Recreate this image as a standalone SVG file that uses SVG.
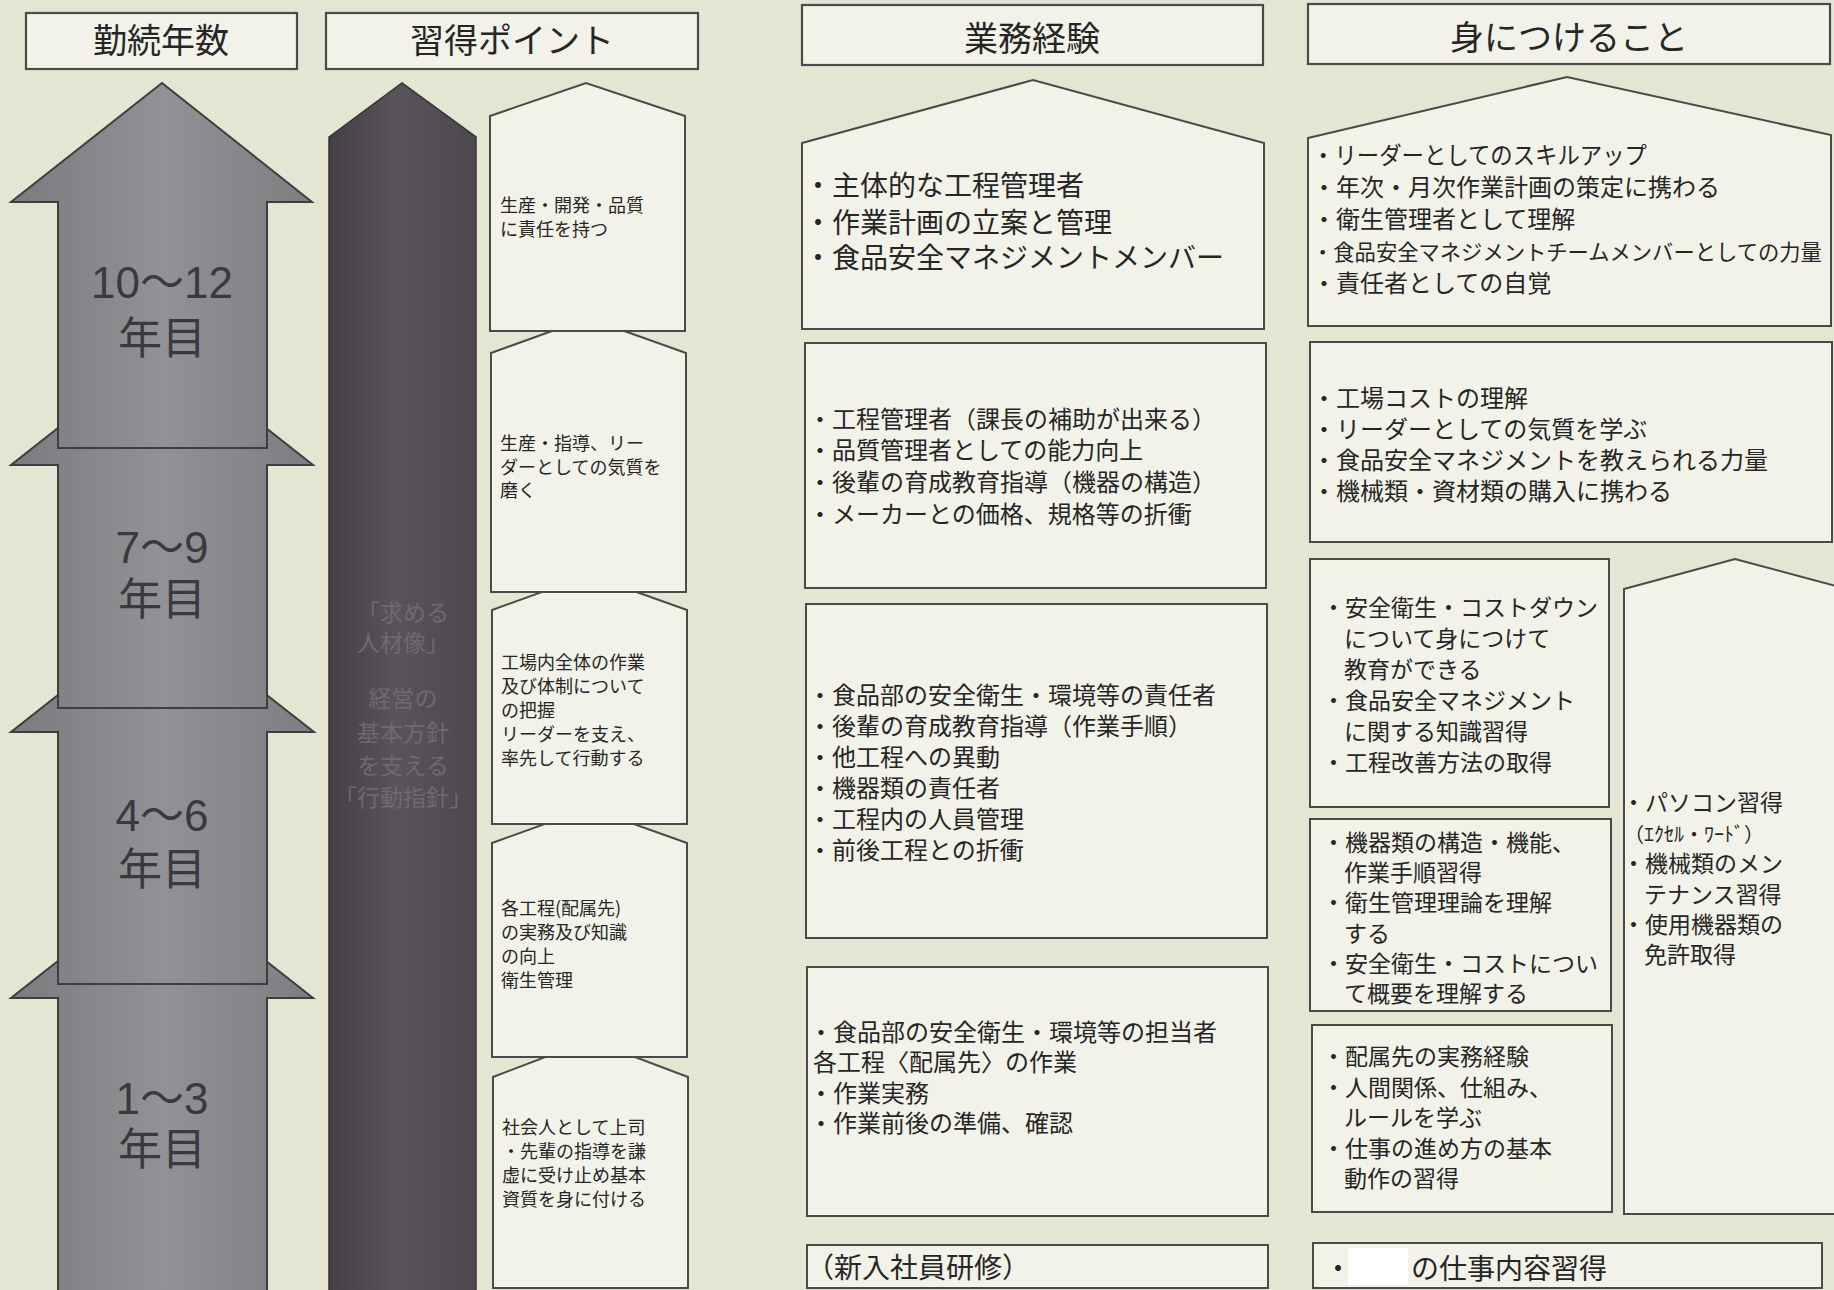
<svg xmlns="http://www.w3.org/2000/svg" width="1834" height="1290" viewBox="0 0 1834 1290">
<defs>
<linearGradient id="gArrow" x1="0" y1="0" x2="1" y2="0">
<stop offset="0" stop-color="#7b7b7f"/>
<stop offset="0.5" stop-color="#929296"/>
<stop offset="1" stop-color="#7e7e82"/>
</linearGradient>
<linearGradient id="gPillar" x1="0" y1="0" x2="1" y2="0">
<stop offset="0" stop-color="#433f44"/>
<stop offset="0.45" stop-color="#59545b"/>
<stop offset="1" stop-color="#4c484e"/>
</linearGradient>
<style>
.bg{fill:#e5e5d3}
.box{fill:#f2f2e8;stroke:#4a4a4a;stroke-width:2}
.hdr{fill:#f2f2e8;stroke:#4a4a4a;stroke-width:2.2}
.arrow{fill:url(#gArrow);stroke:#3e3e3e;stroke-width:2}
.pillar{fill:url(#gPillar);stroke:#333;stroke-width:1.5}
text{font-family:"Noto Sans CJK JP","Noto Sans CJK SC",sans-serif;fill:#262626}
.h{font-size:34px;text-anchor:middle}
.yr{font-family:"Liberation Sans","Noto Sans CJK JP",sans-serif;font-size:44px;text-anchor:middle;fill:#3a3a3c}
.pt{font-size:23px;text-anchor:middle;fill:#6e6a6e}
.s18{font-size:18px}
.s24{font-size:24px}
.s23{font-size:23px}
.s28{font-size:28px}
</style>
</defs>
<rect class="bg" x="0" y="0" width="1834" height="1290"/>

<g id="headers">
<g id="hdr-years"><rect class="hdr" x="26" y="13" width="271" height="56"/><text class="h" x="161" y="53">勤続年数</text></g>
<g id="hdr-points"><rect class="hdr" x="326" y="13" width="372" height="56"/><text class="h" x="512" y="53">習得ポイント</text></g>
<g id="hdr-work"><rect class="hdr" x="802" y="5" width="461" height="60"/><text class="h" x="1032" y="51">業務経験</text></g>
<g id="hdr-skills"><rect class="hdr" x="1308" y="4" width="522" height="60"/><text class="h" x="1569" y="50">身につけること</text></g>
</g>

<g id="year-arrows">
<g id="arrow-1-3"><path class="arrow" d="M162,879 L313,998 L267,998 L267,1296 L58,1296 L58,998 L11,998 Z"/>
<text class="yr" x="162" y="1114">1〜3</text><text class="yr" x="162" y="1165">年目</text></g>
<g id="arrow-4-6"><path class="arrow" d="M162,613 L314,732 L267,732 L267,984 L58,984 L58,732 L11,732 Z"/>
<text class="yr" x="162" y="831">4〜6</text><text class="yr" x="162" y="885">年目</text></g>
<g id="arrow-7-9"><path class="arrow" d="M162,346 L313,465 L267,465 L267,708 L58,708 L58,465 L11,465 Z"/>
<text class="yr" x="162" y="563">7〜9</text><text class="yr" x="162" y="615">年目</text></g>
<g id="arrow-10-12"><path class="arrow" d="M162,83 L312,202 L267,202 L267,448 L58,448 L58,202 L11,202 Z"/>
<text class="yr" x="162" y="298">10〜12</text><text class="yr" x="162" y="354">年目</text></g>
</g>

<g id="pillar">
<path class="pillar" d="M329,137 L402,83 L476,137 L476,1296 L329,1296 Z"/>
<text class="pt" x="403" y="621">「求める</text>
<text class="pt" x="403" y="651">人材像」</text>
<text class="pt" x="403" y="707">経営の</text>
<text class="pt" x="403" y="741">基本方針</text>
<text class="pt" x="403" y="774">を支える</text>
<text class="pt" x="403" y="806">「行動指針」</text>
</g>

<g id="points">
<g id="pt-5"><path class="box" d="M493,1077 L590,1040 L688,1077 L688,1288 L493,1288 Z"/>
<text class="s18" x="502" y="1134">社会人として上司</text>
<text class="s18" x="502" y="1158">・先輩の指導を謙</text>
<text class="s18" x="502" y="1182">虚に受け止め基本</text>
<text class="s18" x="502" y="1206">資質を身に付ける</text></g>
<g id="pt-4"><path class="box" d="M492,843 L589,808 L687,843 L687,1057 L492,1057 Z"/>
<text class="s18" x="501" y="915">各工程(配属先)</text>
<text class="s18" x="501" y="939">の実務及び知識</text>
<text class="s18" x="501" y="963">の向上</text>
<text class="s18" x="501" y="987">衛生管理</text></g>
<g id="pt-3"><path class="box" d="M492,610 L589,575 L687,610 L687,824 L492,824 Z"/>
<text class="s18" x="501" y="669">工場内全体の作業</text>
<text class="s18" x="501" y="693">及び体制について</text>
<text class="s18" x="501" y="717">の把握</text>
<text class="s18" x="501" y="741">リーダーを支え、</text>
<text class="s18" x="501" y="765">率先して行動する</text></g>
<g id="pt-2"><path class="box" d="M491,353 L588,318 L686,353 L686,592 L491,592 Z"/>
<text class="s18" x="500" y="450">生産・指導、リー</text>
<text class="s18" x="500" y="474">ダーとしての気質を</text>
<text class="s18" x="500" y="497">磨く</text></g>
<g id="pt-1"><path class="box" d="M490,116 L586,83 L685,116 L685,331 L490,331 Z"/>
<text class="s18" x="500" y="212">生産・開発・品質</text>
<text class="s18" x="500" y="236">に責任を持つ</text></g>
</g>

<g id="work">
<g id="work-a"><path class="box" d="M802,143 L1033,80 L1264,143 L1264,329 L802,329 Z"/>
<text class="s28" x="804" y="196">・主体的な工程管理者</text>
<text class="s28" x="804" y="233">・作業計画の立案と管理</text>
<text class="s28" x="804" y="268">・食品安全マネジメントメンバー</text></g>
<g id="work-b"><rect class="box" x="805" y="343" width="461" height="245"/>
<text class="s24" x="808" y="428">・工程管理者（課長の補助が出来る）</text>
<text class="s24" x="808" y="459">・品質管理者としての能力向上</text>
<text class="s24" x="808" y="491">・後輩の育成教育指導（機器の構造）</text>
<text class="s24" x="808" y="523">・メーカーとの価格、規格等の折衝</text></g>
<g id="work-c"><rect class="box" x="806" y="604" width="461" height="334"/>
<text class="s24" x="808" y="704">・食品部の安全衛生・環境等の責任者</text>
<text class="s24" x="808" y="735">・後輩の育成教育指導（作業手順）</text>
<text class="s24" x="808" y="766">・他工程への異動</text>
<text class="s24" x="808" y="797">・機器類の責任者</text>
<text class="s24" x="808" y="828">・工程内の人員管理</text>
<text class="s24" x="808" y="859">・前後工程との折衝</text></g>
<g id="work-d"><rect class="box" x="807" y="967" width="461" height="249"/>
<text class="s24" x="809" y="1041">・食品部の安全衛生・環境等の担当者</text>
<text class="s24" x="813" y="1071">各工程〈配属先〉の作業</text>
<text class="s24" x="809" y="1102">・作業実務</text>
<text class="s24" x="809" y="1132">・作業前後の準備、確認</text></g>
<g id="work-e"><rect class="box" x="807" y="1245" width="461" height="43"/>
<text class="s28" x="806" y="1278">（新入社員研修）</text></g>
</g>

<g id="skills">
<g id="sk-f"><path class="box" d="M1308,138 L1567,77 L1831,135 L1831,326 L1308,326 Z"/>
<text class="s24" x="1312" y="164" textLength="335" lengthAdjust="spacingAndGlyphs">・リーダーとしてのスキルアップ</text>
<text class="s24" x="1312" y="196">・年次・月次作業計画の策定に携わる</text>
<text class="s24" x="1312" y="228">・衛生管理者として理解</text>
<text x="1312" y="260" style="font-size:21.3px">・食品安全マネジメントチームメンバーとしての力量</text>
<text class="s24" x="1312" y="292">・責任者としての自覚</text></g>
<g id="sk-g"><rect class="box" x="1310" y="342" width="522" height="200"/>
<text class="s24" x="1312" y="407">・工場コストの理解</text>
<text class="s24" x="1312" y="438">・リーダーとしての気質を学ぶ</text>
<text class="s24" x="1312" y="469">・食品安全マネジメントを教えられる力量</text>
<text class="s24" x="1312" y="500">・機械類・資材類の購入に携わる</text></g>
<g id="sk-h"><rect class="box" x="1310" y="559" width="299" height="248"/>
<text class="s23" x="1322" y="616">・安全衛生・コストダウン</text>
<text class="s23" x="1344" y="647">について身につけて</text>
<text class="s23" x="1344" y="678">教育ができる</text>
<text class="s23" x="1322" y="709">・食品安全マネジメント</text>
<text class="s23" x="1344" y="740">に関する知識習得</text>
<text class="s23" x="1322" y="771">・工程改善方法の取得</text></g>
<g id="sk-i"><rect class="box" x="1310" y="819" width="301" height="192"/>
<text class="s23" x="1322" y="851">・機器類の構造・機能、</text>
<text class="s23" x="1344" y="881">作業手順習得</text>
<text class="s23" x="1322" y="911">・衛生管理理論を理解</text>
<text class="s23" x="1344" y="942">する</text>
<text class="s23" x="1322" y="972">・安全衛生・コストについ</text>
<text class="s23" x="1344" y="1002">て概要を理解する</text></g>
<g id="sk-j"><rect class="box" x="1312" y="1025" width="300" height="187"/>
<text class="s23" x="1322" y="1065">・配属先の実務経験</text>
<text class="s23" x="1322" y="1096">・人間関係、仕組み、</text>
<text class="s23" x="1344" y="1126">ルールを学ぶ</text>
<text class="s23" x="1322" y="1157">・仕事の進め方の基本</text>
<text class="s23" x="1344" y="1187">動作の習得</text></g>
<g id="sk-k"><path class="box" d="M1624,589 L1735,559 L1847,589 L1847,1214 L1624,1214 Z"/>
<text class="s23" x="1622" y="811">・パソコン習得</text>
<text x="1624" y="842" style="font-size:20px">（ｴｸｾﾙ・ﾜｰﾄﾞ）</text>
<text class="s23" x="1622" y="872">・機械類のメン</text>
<text class="s23" x="1644" y="903">テナンス習得</text>
<text class="s23" x="1622" y="933">・使用機器類の</text>
<text class="s23" x="1644" y="963">免許取得</text></g>
<g id="sk-l"><rect class="box" x="1313" y="1243" width="509" height="45"/>
<text class="s28" x="1324" y="1279">・</text>
<rect x="1348" y="1248" width="60" height="37" fill="#ffffff"/>
<text class="s28" x="1411" y="1279">の仕事内容習得</text></g>
</g>

<g id="connectors"/>
</svg>
